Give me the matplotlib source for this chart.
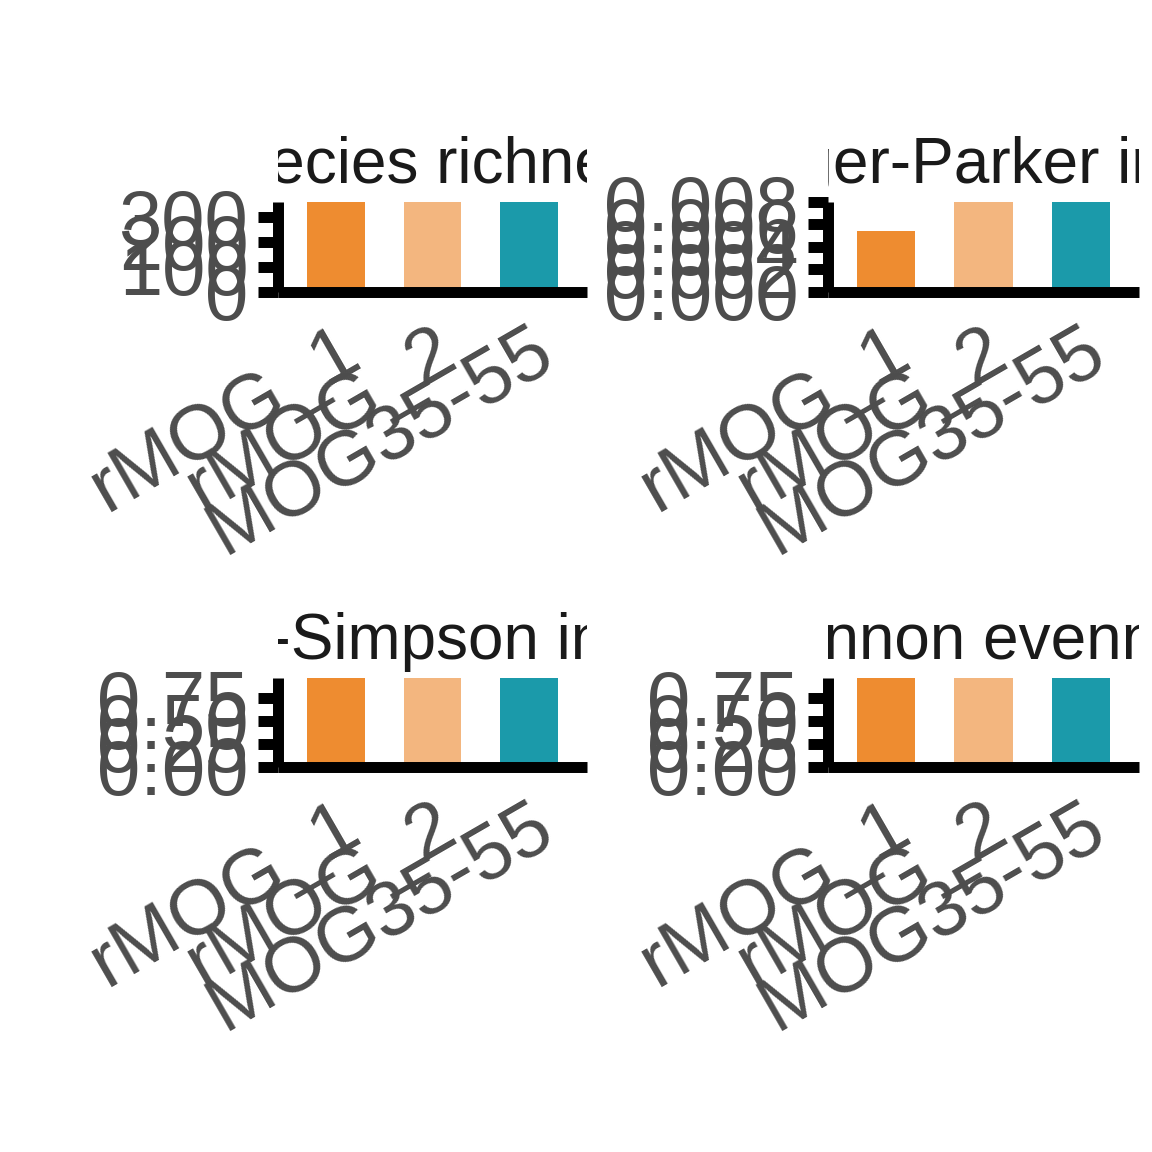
import numpy as np
import matplotlib
matplotlib.use("Agg")
import matplotlib.pyplot as plt
from matplotlib.transforms import Bbox, TransformedBbox, ScaledTranslation

groups = ["rMOG_1", "rMOG_2", "MOG35-55"]
colors = ["#EE8C30", "#F3B67F", "#1B9AAA"]

titles = ["Species richness", "Berger-Parker index", "Gini-Simpson index", "Shannon evenness"]

richness = [358, 358, 358]
berger = [0.0054, 0.0080, 0.0080]
simpson = [0.967, 0.967, 0.967]
evenness = [0.967, 0.967, 0.967]

richness_ticks = [0, 100, 200, 300]
richness_labels = ["0", "100", "200", "300"]
berger_ticks = [0, 0.002, 0.004, 0.006, 0.008]
berger_labels = ["0.000", "0.002", "0.004", "0.006", "0.008"]
frac_ticks = [0, 0.25, 0.5, 0.75]
frac_labels = ["0.00", "0.25", "0.50", "0.75"]

values = [richness, berger, simpson, evenness]
ticks = [richness_ticks, berger_ticks, frac_ticks, frac_ticks]
tick_labels = [richness_labels, berger_labels, frac_labels, frac_labels]

plt.rcParams["font.family"] = ["Liberation Sans", "DejaVu Sans"]

W = 1152
fig = plt.figure(figsize=(11.52, 11.52), dpi=100)

# panel boxes in pixels: left, right, top, bottom
boxes = [(278, 587, 202, 291.5), (828, 1139, 202, 291.5),
         (278, 587, 678, 767), (828, 1139, 678, 767)]

x = np.arange(1, 4)
for i in range(4):
    l, r, t, b = boxes[i]
    ax = fig.add_axes([l / W, 1 - b / W, (r - l) / W, (b - t) / W])
    ax.bar(x, values[i], width=0.6, color=colors)
    ax.set_xlim(0.4, 3.6)
    ax.set_ylim(0, max(values[i]))
    ax.set_yticks(ticks[i])
    ax.set_yticklabels(tick_labels[i])
    ax.set_xticks(x)
    ax.set_xticklabels(groups, rotation=30, ha="right", va="top",
                       rotation_mode="anchor")
    for lab in ax.get_xticklabels():
        lab.set_transform(lab.get_transform() + ScaledTranslation(10 / 100, 0, fig.dpi_scale_trans))
    for s in ["top", "right"]:
        ax.spines[s].set_visible(False)
    for s in ["left", "bottom"]:
        ax.spines[s].set_linewidth(7.9)
        ax.spines[s].set_color("black")
        ax.spines[s].set_capstyle("butt")
    ax.tick_params(axis="y", direction="out", length=14.4, width=7.9, color="black",
                   pad=7, labelsize=56, labelcolor="#4D4D4D")
    ax.tick_params(axis="x", length=0, pad=16, labelsize=56, labelcolor="#4D4D4D")
    ax.set_facecolor("white")
    tt = ax.set_title(titles[i], fontsize=46, color="#1A1A1A", pad=13.7, y=1.0)
    tt.set_clip_box(TransformedBbox(Bbox([[0, -1], [1, 3]]), ax.transAxes))
    tt.set_clip_on(True)

plt.savefig("out.png", dpi=100, facecolor="white")
